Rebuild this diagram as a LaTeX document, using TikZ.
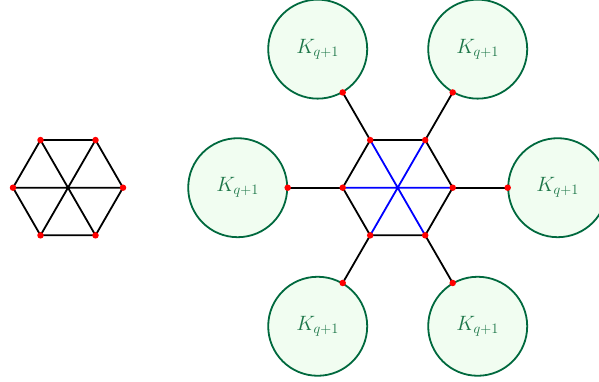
\documentclass[tikz,border=0pt]{standalone}
\usetikzlibrary{calc}
\definecolor{cgreen}{RGB}{0,105,62}
\definecolor{cfill}{RGB}{241,253,241}
\definecolor{ctext}{RGB}{28,118,72}
\tikzset{
  edge/.style={line width=1.8pt, black},
  spoke/.style={line width=1.8pt, blue},
  dot/.style={circle, fill=red, inner sep=0pt, minimum size=6.5pt},
  clique/.style={circle, draw=cgreen, fill=cfill, line width=1.8pt, minimum size=99pt, inner sep=0pt, text=ctext, font=\fontsize{21}{25}\selectfont},
}
\begin{document}
\begin{tikzpicture}[x=1pt,y=1pt]
\useasboundingbox (0,0) rectangle (599,381);
\clip (0,0) rectangle (599,381);
\coordinate (L) at (68,193.3);
\coordinate (H) at (397.7,193.3);
\foreach \i in {0,...,5} {
  \coordinate (l\i) at ($(L)+(\i*60:55)$);
  \coordinate (h\i) at ($(H)+(\i*60:55)$);
  \coordinate (p\i) at ($(H)+(\i*60:110)$);
  \node[clique] (c\i) at ($(H)+(\i*60:160)$) {$K_{q+1}$};
}
% pendant edges
\foreach \i in {0,...,5} { \draw[edge] (h\i) -- (p\i); }
% spokes
\draw[edge] (l0) -- (l3) (l1) -- (l4) (l2) -- (l5);
\draw[spoke] (h0) -- (h3) (h1) -- (h4) (h2) -- (h5);
% hexagons
\draw[edge, line join=round] (l0) -- (l1) -- (l2) -- (l3) -- (l4) -- (l5) -- cycle;
\draw[edge, line join=round] (h0) -- (h1) -- (h2) -- (h3) -- (h4) -- (h5) -- cycle;
% dots
\foreach \i in {0,...,5} {
  \node[dot] (dl\i) at (l\i) {};
  \node[dot] (dh\i) at (h\i) {};
  \node[dot] (dp\i) at (p\i) {};
}
\end{tikzpicture}
\end{document}
